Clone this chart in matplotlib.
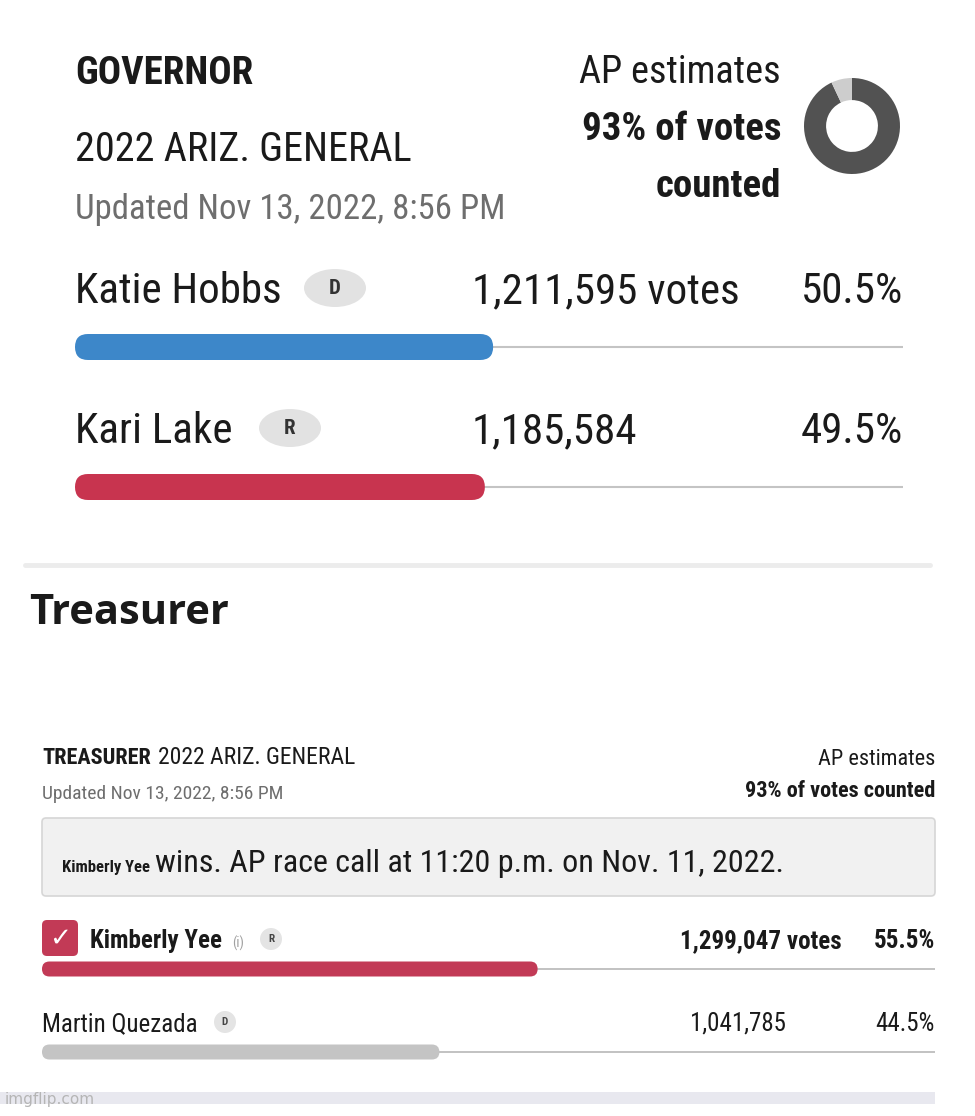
import os
import matplotlib
matplotlib.use("Agg")
import matplotlib.pyplot as plt
from matplotlib import font_manager as fm
from matplotlib.patches import FancyBboxPatch, Ellipse, Rectangle, Circle

# ---------------- data ----------------
gov_title = "GOVERNOR"
race_label = "2022 ARIZ. GENERAL"
updated_label = "Updated Nov 13, 2022, 8:56 PM"
gov_candidates = ["Katie Hobbs", "Kari Lake"]
gov_parties = ["D", "R"]
gov_votes = [1211595, 1185584]
gov_pct = [50.5, 49.5]

treas_heading = "Treasurer"
treas_title = "TREASURER"
treas_candidates = ["Kimberly Yee", "Martin Quezada"]
treas_parties = ["R", "D"]
treas_votes = [1299047, 1041785]
treas_pct = [55.5, 44.5]
race_call_winner = "Kimberly Yee"
race_call_text = "wins. AP race call at 11:20 p.m. on Nov. 11, 2022."

counted_pct = 93

# ---------------- fonts ----------------
def _norm(s):
    return s.lower().replace(" ", "").replace("-", "").replace("_", "")

def _weight(f):
    w = f.weight
    if isinstance(w, str):
        return 700 if "bold" in w.lower() else 400
    return int(w)

def find_font(bold):
    prefs = ["robotocondensed", "liberationsansnarrow", "notosanscondensed",
             "opensanscondensed", "dejavusanscondensed", "arialnarrow"]
    bad = ["italic", "oblique", "extra", "semi", "ultra", "light", "thin",
           "medium", "black", "mono", "serif"]
    for p in prefs:
        for f in fm.fontManager.ttflist:
            key = _norm(f.name + "|" + os.path.basename(f.fname))
            if p not in key:
                continue
            if f.style != "normal" or any(b in key for b in bad):
                continue
            w = _weight(f)
            if bold and w >= 650:
                return fm.FontProperties(fname=f.fname)
            if not bold and w < 550:
                return fm.FontProperties(fname=f.fname)
    return fm.FontProperties(family="Roboto", weight="bold" if bold else "normal")

FP_REG = find_font(False)
FP_BOLD = find_font(True)

W, H = 975, 1116
fig = plt.figure(figsize=(W / 100, H / 100), dpi=100)
fig.patch.set_facecolor("white")
ax = fig.add_axes([0, 0, 1, 1])
ax.set_xlim(0, W)
ax.set_ylim(H, 0)
ax.axis("off")

DARK = "#1a1a1a"
GRAY = "#6e6e6e"


def T(x, y, s, size, bold=False, color=DARK, ha="left", va="baseline", fp=None):
    p = (fp if fp is not None else (FP_BOLD if bold else FP_REG)).copy()
    p.set_size(size)
    return ax.text(x, y, s, fontproperties=p, color=color, ha=ha, va=va)


def right_edge(t):
    fig.canvas.draw()
    bb = t.get_window_extent().transformed(ax.transData.inverted())
    return max(bb.x0, bb.x1)


def px_axes(x0, x1, y_top, y_bot):
    return fig.add_axes([x0 / W, 1 - y_bot / H, (x1 - x0) / W, (y_bot - y_top) / H])


def draw_bars(x0, x1, y_first, pitch, pcts, colors, bar_h_px, track_color, track_lw):
    n = len(pcts)
    pad = 0.5
    bax = px_axes(x0, x1, y_first - pad * pitch, y_first + (n - 1 + pad) * pitch)
    bax.set_xlim(0, 100)
    bax.set_ylim(n - 1 + pad, -pad)
    bax.axis("off")
    for i in range(n):
        bax.plot([0, 100], [i, i], color=track_color, lw=track_lw, zorder=1,
                 solid_capstyle="butt")
    bars = bax.barh(range(n), pcts, height=bar_h_px / pitch, color=colors, zorder=2)
    xpx = (x1 - x0) / 100.0
    r = bar_h_px / 2.0
    for rect, c in zip(bars, colors):
        rect.set_visible(False)
        bax.add_patch(FancyBboxPatch(
            (rect.get_x(), rect.get_y()), rect.get_width(), rect.get_height(),
            boxstyle=f"round,pad=0,rounding_size={r / xpx}",
            mutation_aspect=xpx / pitch, fc=c, ec="none", zorder=2))
    return bax


# ---------------- Governor block ----------------
T(75, 84, gov_title, 28, bold=True)
T(75, 161, race_label, 29)
T(75, 219, updated_label, 25, color=GRAY)

T(781, 83, "AP estimates", 27.5, ha="right")
T(781, 140, f"{counted_pct}% of votes", 28, bold=True, ha="right")
T(781, 197, "counted", 28, bold=True, ha="right")

dax = fig.add_axes([(852 - 48) / W, 1 - (126 + 48) / H, 96 / W, 96 / H])
dax.pie([counted_pct, 100 - counted_pct], colors=["#525252", "#cdcdcd"],
        startangle=90, counterclock=False, radius=1,
        wedgeprops=dict(width=0.46, edgecolor="none"))
dax.set_xlim(-1, 1)
dax.set_ylim(-1, 1)
dax.set_aspect("equal")
dax.axis("off")

gov_colors = ["#3d87c9", "#c8344f"]
gov_badge_x = [335, 290]
for i, (name, party, votes, pct) in enumerate(zip(gov_candidates, gov_parties, gov_votes, gov_pct)):
    base = 303 + 140 * i
    T(75, base, name, 31)
    ax.add_patch(Ellipse((gov_badge_x[i], base - 15), 62, 38, fc="#e2e2e2", ec="none"))
    T(gov_badge_x[i], base - 15, party, 15, bold=True, ha="center", va="center", color="#333333")
    vtxt = f"{votes:,}" + (" votes" if i == 0 else "")
    T(472, base, vtxt, 31)
    T(903, base, f"{pct}%", 31, ha="right")

draw_bars(75, 903, 347, 140, gov_pct, gov_colors, 26, "#c4c4c4", 1.5)

# separator
ax.plot([25, 930], [565, 565], color="#ececec", lw=3.5, solid_capstyle="round")

# ---------------- Treasurer block ----------------
T(29, 624, treas_heading, 30, fp=fm.FontProperties(family="Open Sans", weight="bold"))

t1 = T(42, 764, treas_title, 16, bold=True)
T(right_edge(t1) + 7, 764, race_label, 17)
T(42, 799, updated_label, 14, color=GRAY)
T(935, 765, "AP estimates", 16, ha="right")
T(935, 797, f"{counted_pct}% of votes counted", 16, bold=True, ha="right")

ax.add_patch(FancyBboxPatch((42, 818), 893, 78, boxstyle="round,pad=0,rounding_size=4",
                            fc="#f1f1f1", ec="#d6d6d6", lw=1.2))
tw = T(62, 872, race_call_winner, 12, bold=True)
T(right_edge(tw) + 5, 872, race_call_text, 23)

# checkbox
ax.add_patch(FancyBboxPatch((42, 920), 36, 36, boxstyle="round,pad=0,rounding_size=5",
                            fc="#c23a56", ec="none"))
ax.text(60, 939, "\u2713", fontfamily="DejaVu Sans", fontweight="bold", fontsize=19,
        color="white", ha="center", va="center")

treas_rows = [948, 1031]
treas_name_x = [90, 42]
treas_badge_x = [271, 225]
for i, (name, party, votes, pct) in enumerate(zip(treas_candidates, treas_parties, treas_votes, treas_pct)):
    base = treas_rows[i]
    win = i == 0
    T(treas_name_x[i], base, name, 18, bold=win)
    if win:
        T(232, base, "(i)", 10, color="#a0a0a0")
    ax.add_patch(Circle((treas_badge_x[i], base - 9), 11, fc="#e4e4e4", ec="none"))
    T(treas_badge_x[i], base - 9, party, 8, bold=True, ha="center", va="center", color="#444444")
    if win:
        T(842, base, f"{votes:,} votes", 18, bold=True, ha="right")
        T(935, base, f"{pct}%", 18, bold=True, ha="right")
    else:
        T(690, base, f"{votes:,}", 18)
        T(935, base, f"{pct}%", 18, ha="right")

draw_bars(42, 935, 969, 83, treas_pct, ["#c23a56", "#c4c4c4"], 15, "#bdbdbd", 1.3)

# bottom strip / watermark
ax.add_patch(Rectangle((0, 1092), 935, 12, fc="#e8e8ef", ec="none"))
ax.text(5, 1104, "imgflip.com", fontsize=11, color="#b5b5b5", ha="left", va="baseline",
        fontfamily="DejaVu Sans")

fig.savefig("out.png", dpi=100, facecolor="white")
